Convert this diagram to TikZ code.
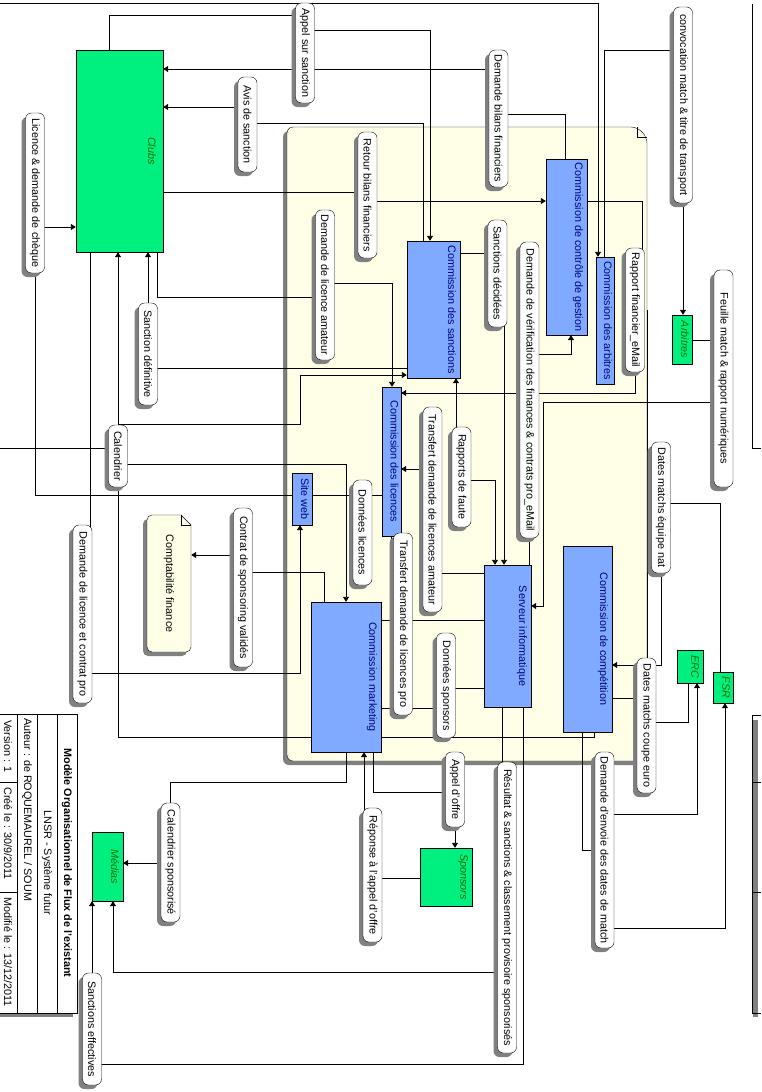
\documentclass[tikz,border=0pt]{standalone}
\usepackage{fontspec}
\setmainfont{Liberation Sans}
\usepackage{graphicx}
\usetikzlibrary{arrows.meta,shadows}

\definecolor{vert}{RGB}{0,240,128}
\definecolor{vertfonce}{RGB}{0,110,0}
\definecolor{bleu}{RGB}{128,170,255}
\definecolor{marine}{RGB}{0,0,128}
\definecolor{creme}{RGB}{255,255,232}
\definecolor{ombre}{RGB}{128,128,128}

\newcommand{\vtext}[1]{\rotatebox{-90}{#1}}

\pgfdeclarelayer{blanc}
\pgfdeclarelayer{fond}
\pgfdeclarelayer{traits}
\pgfsetlayers{blanc,fond,traits,main}

\begin{document}
\begin{tikzpicture}[x=1pt,y=-1pt,
    every node/.style={font=\fontsize{10.8}{12}\selectfont},
    acteur/.style={draw,fill=vert,inner sep=0pt},
    module/.style={draw,fill=bleu,inner sep=0pt},
    nomacteur/.style={anchor=east,inner sep=4pt,text=vertfonce,font=\fontsize{10.8}{12}\selectfont\itshape},
    nommodule/.style={anchor=east,inner sep=4pt,text=marine},
    flux/.style={draw,fill=white,rounded corners=6pt,minimum width=19pt,inner sep=1pt,
      drop shadow={shadow xshift=-4pt,shadow yshift=-4pt,fill=ombre,opacity=1}},
    fl/.style={line width=0.9pt},
    fleche/.style={fl,-{Triangle[length=5pt,width=6pt]}}]
  \useasboundingbox (0,0) rectangle (761,1092);
  \begin{pgfonlayer}{blanc}
    \fill[white] (0,0) rectangle (761,1092);
  \end{pgfonlayer}

  % domaine (fond jaune)
  \begin{pgfonlayer}{fond}
    \fill[ombre,rounded corners=6pt] (283,131) rectangle (643,765);
    \draw[fill=creme,rounded corners=6pt] (637,127) -- (287,127) -- (287,761) -- (647,761) -- (647,137) -- cycle;
    \draw (637,127) -- (637,137) -- (647,137);
  \end{pgfonlayer}

  % acteurs externes
  \node[acteur,minimum width=87pt,minimum height=202pt,label={[nomacteur,inner sep=7pt]east:\vtext{Clubs}}] (clubs) at (119.5,151) {};
  \node[acteur,minimum width=20pt,minimum height=49pt,label={[nomacteur,inner sep=3pt]east:\vtext{Arbitres}}] (arbitres) at (682,339.5) {};
  \node[acteur,minimum width=26pt,minimum height=33pt,label={[nomacteur]east:\vtext{ERC}}] (erc) at (690,666.5) {};
  \node[acteur,minimum width=20pt,minimum height=31pt,label={[nomacteur,inner sep=3pt]east:\vtext{FSR}}] (fsr) at (723,687.5) {};
  \node[acteur,minimum width=31pt,minimum height=69pt,label={[nomacteur]east:\vtext{Médias}}] (medias) at (107.5,866.5) {};
  \node[acteur,minimum width=52pt,minimum height=58pt,label={[nomacteur]east:\vtext{Sponsors}}] (sponsors) at (446,877) {};

  % modules internes
  \node[module,minimum width=53pt,minimum height=137pt,label={[nommodule]east:\vtext{Commission des sanctions}}] (csanc) at (433.5,309.5) {};
  \node[module,minimum width=41pt,minimum height=176pt,label={[nommodule]east:\vtext{Commission de contrôle de gestion}}] (cgest) at (566.5,247) {};
  \node[module,minimum width=18pt,minimum height=127pt,label={[nommodule,inner sep=2pt]east:\vtext{Commission des arbitres}}] (carb) at (605,320.5) {};
  \node[module,minimum width=19pt,minimum height=149pt,label={[nommodule,inner sep=2.5pt]east:\vtext{Commission des licences}}] (clic) at (391.5,461.5) {};
  \node[module,minimum width=20pt,minimum height=52pt,label={[nommodule,inner sep=3pt]east:\vtext{Site web}}] (siteweb) at (302,499) {};
  \node[module,minimum width=47pt,minimum height=142pt,label={[nommodule]east:\vtext{Serveur informatique}}] (serveur) at (507.5,636) {};
  \node[module,minimum width=49pt,minimum height=186pt,label={[nommodule]east:\vtext{Commission de compétition}}] (ccomp) at (587.5,639) {};
  \node[module,minimum width=70pt,minimum height=150pt,label={[nommodule]east:\vtext{Commission marketing}}] (cmark) at (346,677) {};

  % comptabilite
  \node[draw,fill=creme,rounded corners=5pt,minimum width=44pt,minimum height=137pt,inner sep=0pt,
    drop shadow={shadow xshift=-4pt,shadow yshift=-4pt,fill=ombre,opacity=1}] (compta) at (169,583.5) {\vtext{Comptabilité finance}};
  \fill[white] (181,514) -- (192,514) -- (192,525) -- cycle;
  \draw (181,515) -- (191,525);
  \draw (181,515) -- (181,525) -- (191,525);

  % flux
  \node[flux,minimum height=100pt] (pappel) at (305,53) {\vtext{Appel sur sanction}};
  \node[flux,minimum height=95pt] (pavis) at (247.5,124.5) {\vtext{Avis de sanction}};
  \node[flux,minimum height=160pt] (plicence) at (35,193) {\vtext{Licence \& demande de chèque}};
  \node[flux,minimum height=126pt] (pretour) at (367.5,195) {\vtext{Retour bilans financiers}};
  \node[flux,minimum height=150pt] (pdemlic) at (325,285) {\vtext{Demande de licence amateur}};
  \node[flux,minimum height=137pt] (pdembil) at (498.5,118.5) {\vtext{Demande bilans financiers}};
  \node[flux,minimum height=196pt] (pconvoc) at (683,105) {\vtext{convocation match \& titre de transport}};
  \node[flux,minimum height=107pt] (psancdec) at (497.5,273.5) {\vtext{Sanctions décidées}};
  \node[flux,minimum height=296pt] (pverif) at (529.5,390) {\vtext{Demande de vérification des finances \& contrats pro\_eMail}};
  \node[flux,minimum height=124pt] (prapfin) at (635,310) {\vtext{Rapport financier\_eMail}};
  \node[flux,minimum height=217pt] (pfeuille) at (723.5,378.5) {\vtext{Feuille match \& rapport numériques}};
  \node[flux,minimum height=102pt] (psancdef) at (148,354) {\vtext{Sanction définitive}};
  \node[flux,minimum height=62pt] (pcal) at (118,456) {\vtext{Calendrier}};
  \node[flux,minimum height=100pt] (prapfaute) at (461.5,477) {\vtext{Rapports de faute}};
  \node[flux,minimum height=205pt] (ptramat) at (432.5,509.5) {\vtext{Transfert demande de licences amateur}};
  \node[flux,minimum height=105pt] (pdonlic) at (362.5,532.5) {\vtext{Données licences}};
  \node[flux,minimum height=182pt] (ptrapro) at (403,624) {\vtext{Transfert demande de licences pro}};
  \node[flux,minimum height=159pt] (pcontrat) at (243,587.5) {\vtext{Contrat de sponsoring validés}};
  \node[flux,minimum height=178pt] (pdemlicpro) at (82.5,614) {\vtext{Demande de licence et contrat pro}};
  \node[flux,minimum height=131pt] (pdateseq) at (661,507.5) {\vtext{Dates matchs équipe nat}};
  \node[flux,minimum height=105pt] (pdonspo) at (446,685.5) {\vtext{Données sponsors}};
  \node[flux,minimum height=135pt] (pdatescoupe) at (646.5,725.5) {\vtext{Dates matchs coupe euro}};
  \node[flux,minimum height=75pt] (pappeloffre) at (455,789.5) {\vtext{Appel d'offre}};
  \node[flux,minimum height=291pt] (presultat) at (507,907.5) {\vtext{Résultat \& sanctions \& classement provisoire sponsorisés}};
  \node[flux,minimum height=196pt] (pdemenvoi) at (604.5,850) {\vtext{Demande d'envoie des dates de match}};
  \node[flux,minimum height=119pt] (pcalspo) at (170.5,862.5) {\vtext{Calendrier sponsorisé}};
  \node[flux,minimum height=134pt] (preponse) at (372.5,875) {\vtext{Réponse à l'appel d'offre}};
  \node[flux,minimum height=112pt] (psanceff) at (92,1029) {\vtext{Sanctions effectives}};

  % cartouche
  \begin{pgfonlayer}{fond}
    \fill[ombre] (-14,718) rectangle (73,1017);
  \end{pgfonlayer}
  \draw[fill=white] (-10,714) rectangle (77,1013);
  \draw (17,714) -- (17,1013);
  \draw (37,714) -- (37,1013);
  \draw (57,714) -- (57,1013);
  \draw (-10,782) -- (17,782);
  \draw (-10,892) -- (17,892);
  \node (titre) at (67,863) {\vtext{\bfseries Modèle Organisationnel de Flux de l'existant}};
  \node (projet) at (47,863) {\vtext{LNSR - Système futur}};
  \node[anchor=north,inner sep=1pt] (auteur) at (27,717) {\vtext{Auteur : de ROQUEMAUREL / SOUM}};
  \node[anchor=north,inner sep=1pt] (version) at (8,719) {\vtext{Version : 1}};
  \node[anchor=north,inner sep=1pt] (cree) at (8,786) {\vtext{Créé le : 30/9/2011}};
  \node[anchor=north,inner sep=1pt] (modif) at (8,896) {\vtext{Modifié le : 13/12/2011}};

  % bords des autres vues
  \coordinate (bordhaut) at (0,3);
  \coordinate (bordcal) at (0,448);
  \draw[fl] (752,4) -- (752,448) -- (761,448);
  \begin{pgfonlayer}{fond}
    \fill[ombre] (753,720) rectangle (758,1017);
  \end{pgfonlayer}
  \draw[fl] (761,715) -- (752,715) -- (752,1013) -- (761,1013);
  \draw (752,782) -- (761,782);
  \draw (752,892) -- (761,892);

  \begin{pgfonlayer}{traits}
    \draw[fleche] (bordhaut) -| (carb.north -| 598,0);
    \draw[fl] (clubs.north -| 109,0) -- (109,15) -- (pappel |- 0,15);
    \draw[fleche] (pappel |- 0,30) -| (csanc.north -| 430,0);
    \draw[fl] (csanc.north -| 423,0) -- (423,123) -- (pavis |- 0,123);
    \draw[fleche] (pavis |- 0,107) -- (clubs.east |- 0,107);
    \draw[fl] (cgest.north -| 565,0) -- (565,114) -- (pdembil |- 0,114);
    \draw[fleche] (pdembil |- 0,69) -- (clubs.east |- 0,69);
    \draw[fl] (clubs.east |- 0,192) -- (pretour |- 0,192);
    \draw[fleche] (pretour |- 0,201) -- (cgest.west |- 0,201);
    \draw[fl] (siteweb.west |- 0,495) -| (plicence);
    \draw[fleche] (plicence |- 0,227) -- (clubs.west |- 0,227);
    \draw[fl] (clubs.south -| 157,0) |- (pdemlic |- 0,297);
    \draw[fleche] (pdemlic |- 0,283) -| (clic.north -| 392,0);
    \draw[fl] (csanc.west |- 0,368) -| (psancdef);
    \draw[fleche] (psancdef) -- (clubs.south -| psancdef);
    \draw[fl] (ccomp.south -| 594,0) -- (594,737) -| (pcal);
    \draw[fleche] (pcal) -- (clubs.south -| pcal);
    \draw[fleche] (pcal |- 0,424) -| (300,375) -- (csanc.west |- 0,375);
    \draw[fleche] (pcal |- 0,464) -| (cmark.north -| 346,0);
    \draw[fl] (pcal |- 0,448) -- (bordcal);
    \draw[fleche] (prapfaute -| 456,0) -- (csanc.south -| 456,0);
    \draw[fleche] (prapfaute |- 0,480) -| (serveur.north -| 495,0);
    \draw[fl] (csanc.east |- 0,253) -- (psancdec |- 0,253);
    \draw[fleche] (psancdec -| 504,0) -- (serveur.north -| 504,0);
    \draw[fl] (serveur.north -| pverif) -- (pverif);
    \draw[fleche] (pverif |- 0,354) -| (cgest.south -| 571,0);
    \draw[fl] (cgest.east |- 0,201) -| (prapfin -| 642,0);
    \draw[fleche] (prapfin) |- (clic.east |- 0,393);
    \draw[fl] (carb.north -| 604,0) |- (pconvoc |- 0,50);
    \draw[fleche] (pconvoc) -- (arbitres.north -| pconvoc);
    \draw[fl] (arbitres.east |- 0,340) -- (pfeuille |- 0,340);
    \draw[fleche] (pfeuille |- 0,402) -| (543,606) -- (serveur.east |- 0,606);
    \draw[fl] (serveur.west |- 0,573) -- (ptramat |- 0,573);
    \draw[fleche] (ptramat |- 0,469) -- (clic.east |- 0,469);
    \draw[fl] (clic.west |- 0,495) -- (siteweb.east |- 0,495);
    \draw[fl] (clubs.south -| 90,0) -- (90,0 |- pdemlicpro);
    \draw[fleche] (pdemlicpro |- 0,673) -| (siteweb.south -| 300,0);
    \draw[fl] (cmark.north -| 324,0) |- (pcontrat |- 0,572);
    \draw[fleche] (pcontrat |- 0,555) -- (compta.east |- 0,555);
    \draw[fl] (cmark.south -| 346,0) -- (346,782) -| (pcalspo);
    \draw[fleche] (pcalspo |- 0,863) -- (medias.east |- 0,863);
    \draw[fl] (sponsors.west |- 0,878) -- (preponse |- 0,878);
    \draw[fleche] (preponse -| 364,0) -- (cmark.south -| 364,0);
    \draw[fl] (cmark.south -| 373,0) |- (pappeloffre |- 0,792);
    \draw[fleche] (pappeloffre) -- (sponsors.north -| pappeloffre);
    \draw[fl] (cmark.east |- 0,708) -- (pdonspo |- 0,708);
    \draw[fl] (pdonspo |- 0,688) -- (serveur.west |- 0,688);
    \draw[fl] (cmark.east |- 0,620) -- (serveur.west |- 0,620);
    \draw[fl] (clic.south -| 391,0) -- (391,620);
    \draw[fl] (serveur.south -| 502,0) -- (502,0 |- presultat);
    \draw[fleche] (presultat |- 0,972) -| (medias.south -| 113,0);
    \draw[fl] (serveur.south -| 523,0) |- (psanceff |- 0,1064);
    \draw[fleche] (psanceff) -- (medias.south -| psanceff);
    \draw[fl] (fsr.north -| 720,0) |- (pdateseq |- 0,503);
    \draw[fleche] (pdateseq) |- (ccomp.east |- 0,665);
    \draw[fl] (erc.south -| 688,0) |- (pdatescoupe |- 0,722);
    \draw[fl] (ccomp.east |- 0,698) -- (pdatescoupe |- 0,698);
    \draw[fl] (prapfin -| 647,0) -- (pdatescoupe -| 647,0);
    \draw[fl] (ccomp.south -| 582,0) |- (pdemenvoi |- 0,850);
    \draw[fleche] (pdemenvoi |- 0,814) -| (erc.south -| 697,0);
    \draw[fleche] (pdemenvoi |- 0,928) -| (fsr.south -| 725,0);
  \end{pgfonlayer}
\end{tikzpicture}
\end{document}
